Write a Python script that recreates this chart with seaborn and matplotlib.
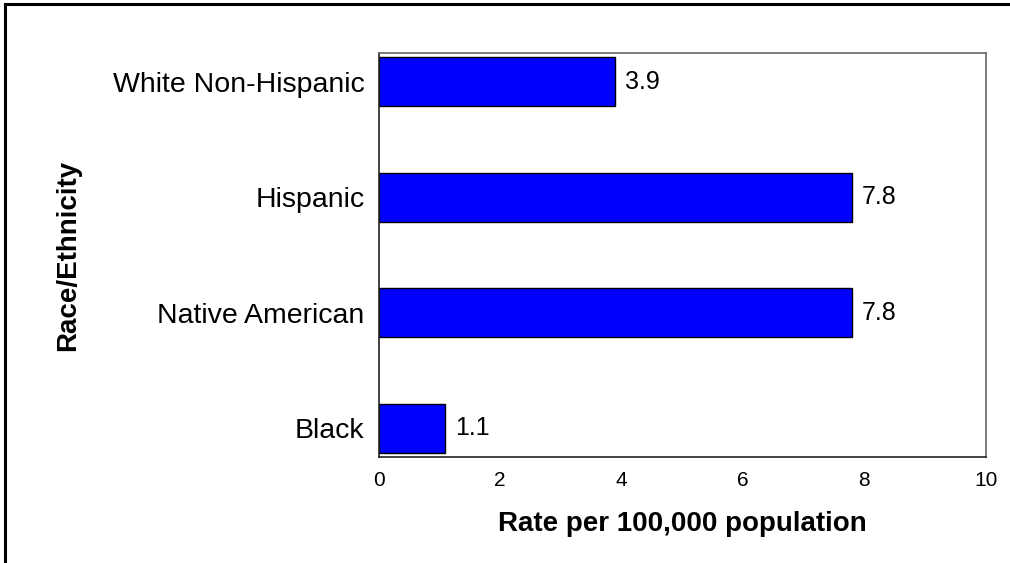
import matplotlib
matplotlib.use("Agg")
import matplotlib.pyplot as plt
import seaborn as sns
import pandas as pd
from matplotlib.patches import Rectangle

groups = ["White Non-Hispanic", "Hispanic", "Native American", "Black"]
rates = [3.9, 7.8, 7.8, 1.1]
xticks = [0, 2, 4, 6, 8, 10]

sns.set_theme(style="white")
plt.rcParams["font.family"] = ["Liberation Sans", "DejaVu Sans"]

df = pd.DataFrame({"group": groups, "rate": rates})

fig = plt.figure(figsize=(10.10, 5.63), dpi=100)
ax = fig.add_axes([0.3748, 0.1883, 0.6012, 0.7176])

sns.barplot(data=df, x="rate", y="group", orient="h", color="#0000ff",
            saturation=1, width=0.425, edgecolor="black", linewidth=1.0, ax=ax)

ax.set_xlim(0, 10)
ax.set_ylim(3.25, -0.25)
ax.set_xticks(xticks)
ax.set_xticklabels([str(t) for t in xticks])
ax.tick_params(axis="x", length=0, pad=10, labelsize=15, colors="black")
ax.tick_params(axis="y", length=0, pad=10, labelsize=20.5, colors="black")

ax.set_xlabel("Rate per 100,000 population", fontsize=20, fontweight="bold",
              labelpad=15, color="black")
ax.set_ylabel("Race/Ethnicity", fontsize=20, fontweight="bold",
              labelpad=23, color="black")

for side in ["left", "bottom"]:
    ax.spines[side].set_color("#222222")
    ax.spines[side].set_linewidth(1.2)
for side in ["top", "right"]:
    ax.spines[side].set_color("#666666")
    ax.spines[side].set_linewidth(1.2)

# value labels at the end of each bar
for container in ax.containers:
    ax.bar_label(container, labels=[f"{v:.1f}" for v in rates], padding=7,
                 fontsize=18, color="black")

# outer frame around the figure
fig.patches.append(Rectangle((0.005, -0.1), 1.2, 1.093, transform=fig.transFigure,
                             fill=False, edgecolor="black", linewidth=2.2))

fig.savefig("out.png", dpi=100, facecolor="white")
